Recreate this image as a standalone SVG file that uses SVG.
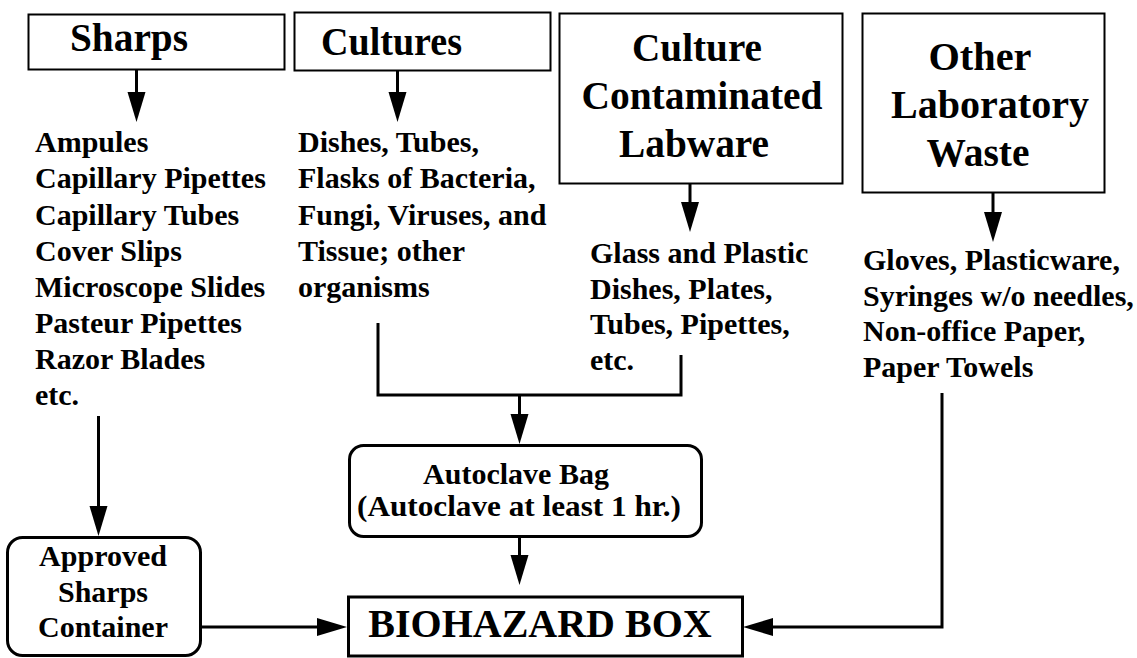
<svg xmlns="http://www.w3.org/2000/svg" width="1137" height="658" viewBox="0 0 1137 658">
<style>
text{font-family:"Liberation Serif","Times New Roman",serif;font-weight:bold;fill:#000}
.title{font-size:41px}
.item{font-size:30px}
.big{font-size:40px}
.box{fill:#fff;stroke:#000;stroke-width:2}
.rbox{fill:#fff;stroke:#000;stroke-width:3}
.mid{text-anchor:middle}
.conn{fill:none;stroke:#000;stroke-width:3}
</style>
<defs>
<marker id="ah" markerUnits="userSpaceOnUse" markerWidth="32" markerHeight="20" refX="1" refY="9" orient="auto">
<path d="M0,0 L30,9 L0,18 Z" fill="#000"/>
</marker>
</defs>
<rect width="1137" height="658" fill="#fff"/>

<g id="sharps">
<rect class="box" x="28.5" y="14.5" width="256" height="55"/>
<text class="title" x="70" y="51" textLength="118" lengthAdjust="spacingAndGlyphs">Sharps</text>
</g>
<g id="cultures">
<rect class="box" x="294.5" y="12.5" width="256" height="58"/>
<text class="title" x="321" y="55" textLength="141" lengthAdjust="spacingAndGlyphs">Cultures</text>
</g>
<g id="labware">
<rect class="box" x="559.5" y="13.5" width="283" height="170"/>
<text class="title mid" x="697" y="61" textLength="130" lengthAdjust="spacingAndGlyphs">Culture</text>
<text class="title mid" x="702" y="108.5" textLength="241" lengthAdjust="spacingAndGlyphs">Contaminated</text>
<text class="title mid" x="694" y="156.5" textLength="150" lengthAdjust="spacingAndGlyphs">Labware</text>
</g>
<g id="other">
<rect class="box" x="862.5" y="13.5" width="242" height="179"/>
<text class="title mid" x="980" y="70" textLength="103" lengthAdjust="spacingAndGlyphs">Other</text>
<text class="title mid" x="990" y="118" textLength="198" lengthAdjust="spacingAndGlyphs">Laboratory</text>
<text class="title mid" x="978" y="166" textLength="103" lengthAdjust="spacingAndGlyphs">Waste</text>
</g>

<g id="sharps-list">
<text class="item" x="35" y="152">Ampules</text>
<text class="item" x="35" y="188">Capillary Pipettes</text>
<text class="item" x="35" y="224.5">Capillary Tubes</text>
<text class="item" x="35" y="260.5">Cover Slips</text>
<text class="item" x="35" y="296.5">Microscope Slides</text>
<text class="item" x="35" y="333">Pasteur Pipettes</text>
<text class="item" x="35" y="369">Razor Blades</text>
<text class="item" x="35" y="405">etc.</text>
</g>
<g id="cultures-list">
<text class="item" x="298" y="152">Dishes, Tubes,</text>
<text class="item" x="298" y="188">Flasks of Bacteria,</text>
<text class="item" x="298" y="224.5">Fungi, Viruses, and</text>
<text class="item" x="298" y="260.5">Tissue; other</text>
<text class="item" x="298" y="296.5">organisms</text>
</g>
<g id="labware-list">
<text class="item" x="590" y="263">Glass and Plastic</text>
<text class="item" x="590" y="298.5">Dishes, Plates,</text>
<text class="item" x="590" y="334">Tubes, Pipettes,</text>
<text class="item" x="590" y="369.5">etc.</text>
</g>
<g id="other-list">
<text class="item" x="863" y="270">Gloves, Plasticware,</text>
<text class="item" x="863" y="305.5">Syringes w/o needles,</text>
<text class="item" x="863" y="341">Non-office Paper,</text>
<text class="item" x="863" y="376.5">Paper Towels</text>
</g>

<g id="autoclave">
<rect class="rbox" x="349.5" y="445.5" width="352" height="91" rx="14"/>
<text class="item mid" x="516" y="484">Autoclave Bag</text>
<text class="item mid" x="519" y="516" textLength="324" lengthAdjust="spacingAndGlyphs">(Autoclave at least 1 hr.)</text>
</g>
<g id="container">
<rect class="rbox" x="7.5" y="537.5" width="193" height="118" rx="15"/>
<text class="item mid" x="103" y="566">Approved</text>
<text class="item mid" x="103" y="601.5">Sharps</text>
<text class="item mid" x="103" y="637">Container</text>
</g>
<g id="biohazard">
<rect class="rbox" x="348.5" y="597" width="394" height="59"/>
<text class="big mid" x="540" y="637">BIOHAZARD BOX</text>
</g>

<g id="connectors">
<path class="conn" d="M136.5,69 V93" marker-end="url(#ah)"/>
<path class="conn" d="M397.5,70 V93" marker-end="url(#ah)"/>
<path class="conn" d="M690,184 V203" marker-end="url(#ah)"/>
<path class="conn" d="M993,193 V213" marker-end="url(#ah)"/>
<path class="conn" d="M378,323 V395 H681 V355"/>
<path class="conn" d="M519.5,395 V415" marker-end="url(#ah)"/>
<path class="conn" d="M98.5,416 V507" marker-end="url(#ah)"/>
<path class="conn" d="M519.5,537 V556" marker-end="url(#ah)"/>
<path class="conn" d="M200,627 H318" marker-end="url(#ah)"/>
<path class="conn" d="M942,393 V627 H772" marker-end="url(#ah)"/>
</g>
</svg>
